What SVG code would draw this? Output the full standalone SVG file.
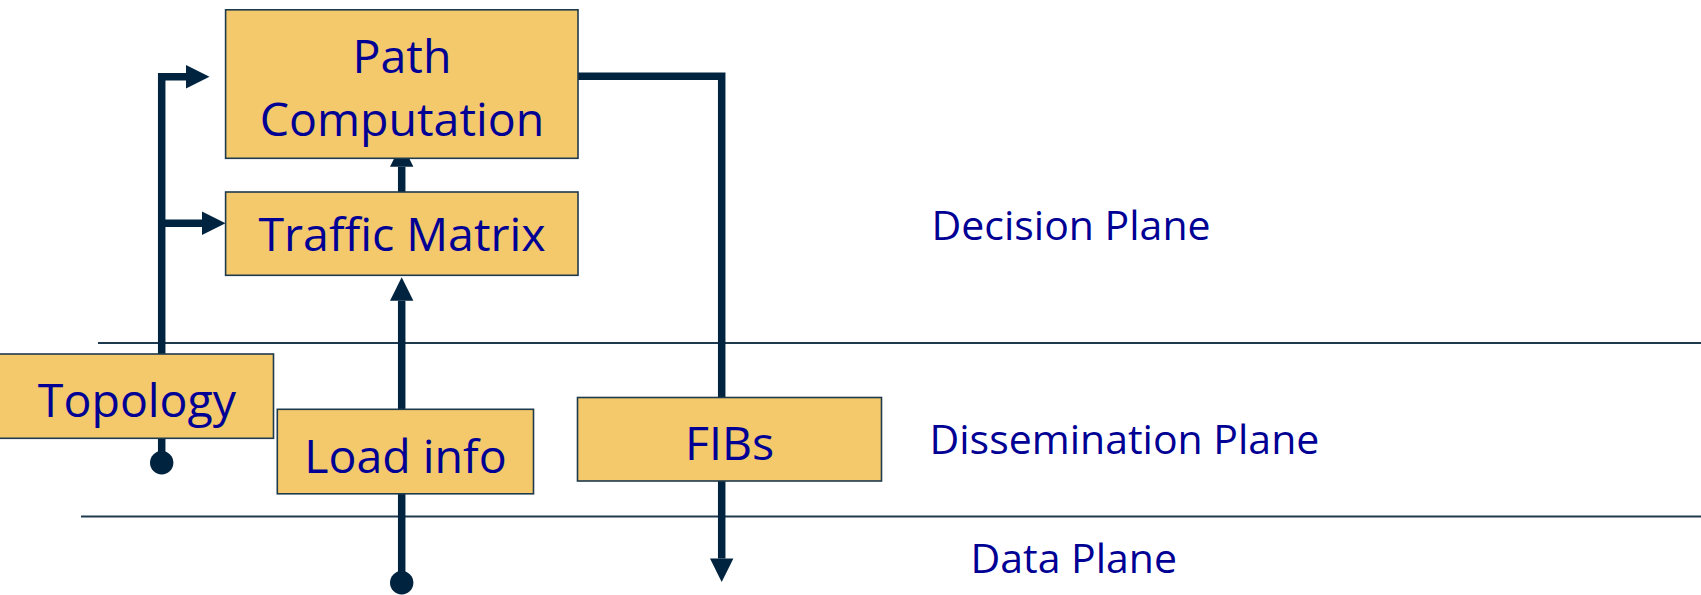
<svg xmlns="http://www.w3.org/2000/svg" width="1701" height="595" viewBox="0 0 1701 595">
  <style>
    .box { fill: #F3C96B; stroke: #1E3A4E; stroke-width: 1.6; }
    .btxt { font-family: "Open Sans", "Liberation Sans", sans-serif; font-size: 46.5px; fill: #000094; text-anchor: middle; }
    .ltxt { font-family: "Open Sans", "Liberation Sans", sans-serif; font-size: 41px; fill: #000094; }
    .sep { stroke: #1E3A4E; stroke-width: 2; fill: none; }
    .wire { stroke: #00243F; stroke-width: 7.5; fill: none; stroke-linejoin: miter; }
    .dot { fill: #00243F; }
  </style>
  <defs>
    <marker id="head" markerUnits="userSpaceOnUse" markerWidth="24" markerHeight="24" refX="0" refY="11.7" orient="auto" overflow="visible">
      <path d="M0,0 L23.5,11.7 L0,23.4 Z" fill="#00243F"/>
    </marker>
  </defs>

  <!-- plane separators -->
  <g id="separators">
    <line class="sep" x1="98" y1="343" x2="1701" y2="343"/>
    <line class="sep" x1="81" y1="516.5" x2="1701" y2="516.5"/>
  </g>

  <!-- connectors -->
  <g id="connectors">
    <!-- topology trunk feeding both decision boxes -->
    <path class="wire" d="M161.7,462.7 V76.7 H186" marker-end="url(#head)"/>
    <path class="wire" d="M161.7,223.3 H202" marker-end="url(#head)"/>
    <circle class="dot" cx="161.7" cy="462.7" r="11.7"/>
    <!-- traffic matrix to path computation -->
    <path class="wire" d="M401.7,192 V166.7" marker-end="url(#head)"/>
    <!-- load info up to traffic matrix -->
    <path class="wire" d="M401.7,582.7 V300.7" marker-end="url(#head)"/>
    <circle class="dot" cx="401.7" cy="582.7" r="11.7"/>
    <!-- path computation down through FIBs to data plane -->
    <path class="wire" d="M578,76.2 H721.7 V558.5" marker-end="url(#head)"/>
  </g>

  <g id="path-computation">
    <rect class="box" x="225.6" y="9.8" width="352.4" height="148.5"/>
    <text class="btxt" x="402" y="72.7">Path</text>
    <text class="btxt" x="402" y="136">Computation</text>
  </g>

  <g id="traffic-matrix">
    <rect class="box" x="225.6" y="192" width="352.4" height="83.3"/>
    <text class="btxt" x="402" y="251">Traffic Matrix</text>
  </g>

  <g id="topology">
    <rect class="box" x="-5" y="354" width="278.5" height="84.3"/>
    <text class="btxt" x="137" y="417">Topology</text>
  </g>

  <g id="load-info">
    <rect class="box" x="277.3" y="409.3" width="256.2" height="84.5"/>
    <text class="btxt" x="405.5" y="472.7">Load info</text>
  </g>

  <g id="fibs">
    <rect class="box" x="577.5" y="397.5" width="304" height="83.5"/>
    <text class="btxt" x="729.5" y="460">FIBs</text>
  </g>

  <g id="plane-labels">
    <text class="ltxt" x="931.5" y="240">Decision Plane</text>
    <text class="ltxt" x="929.5" y="454">Dissemination Plane</text>
    <text class="ltxt" x="970.5" y="573.3">Data Plane</text>
  </g>
</svg>
